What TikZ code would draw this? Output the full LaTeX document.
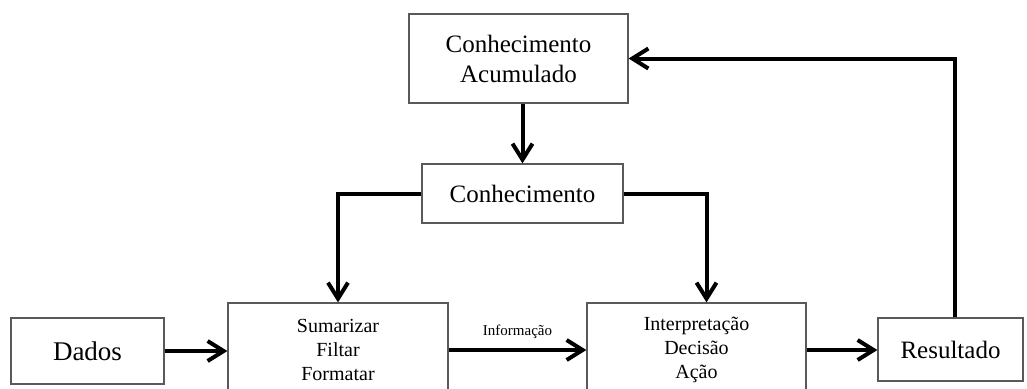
\documentclass[tikz,border=0pt]{standalone}
\usepackage{fontspec}
\setmainfont{Liberation Serif}
\usetikzlibrary{arrows.meta,positioning}

\begin{document}
\begin{tikzpicture}[x=0.5pt,y=-0.5pt,line width=2pt,-{Straight Barb[length=8pt,width=10pt]}]
    \tikzstyle{block}=[draw=black!65,line width=0.6pt,fill=white,inner sep=2pt,align=center]
    \tikzstyle{small block}=[block,font=\fontsize{10}{12}\selectfont]
    \tikzstyle{big block}=[block,font=\fontsize{12.5}{15}\selectfont]
    \tikzstyle{annot}=[font=\fontsize{7.5}{9}\selectfont]

    \useasboundingbox (0,0) rectangle (1027,388);

    % Draw the input and output boxes
    \node[big block,font=\fontsize{13.5}{16}\selectfont,minimum width=76.5pt,minimum height=33pt] (dados) at (87.5,351) {Dados};
    \node[big block,minimum width=72.5pt,minimum height=31.5pt] (res) at (950.5,349.5) {Resultado};

    % Draw the process boxes
    \node[small block,minimum width=110pt,minimum height=47pt] (sum) at (338,350) {Sumarizar\\Filtar\\Formatar};
    \node[small block,minimum width=109.5pt,minimum height=47pt] (interp) at (696.5,350) {Interpretação\\Decisão\\Ação};

    % Draw the knowledge boxes
    \node[big block,minimum width=109.5pt,minimum height=44.5pt] (acum) at (518.5,58.5) {Conhecimento\\Acumulado};
    \node[big block,minimum width=100.5pt,minimum height=29.5pt] (conh) at (522.5,193.5) {Conhecimento};

    % Connect the boxes along the main flow
    \draw (dados.east) -- (dados.east -| sum.west);
    \draw (sum) -- node[annot,above=1.5pt] {Informação} (interp);
    \draw (interp.east) -- (interp.east -| res.west);

    % Connect the knowledge to the processes
    \draw (conh.north |- acum.south) -- (conh.north);
    \draw (conh.west) -| (sum.north);
    \draw (conh.east) -| ([xshift=5pt]interp.north);

    % Feed the result back
    \draw ([xshift=2pt]res.north) |- (acum.east);
\end{tikzpicture}
\end{document}
